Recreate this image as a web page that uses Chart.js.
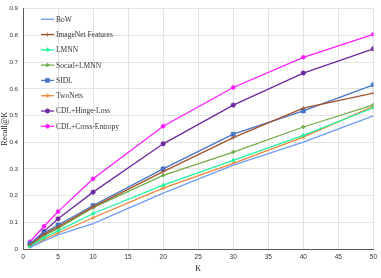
<!DOCTYPE html>
<html>
<head>
<meta charset="utf-8">
<script src="https://cdn.jsdelivr.net/npm/chart.js@4.4.0/dist/chart.umd.min.js"></script>
<style>
  body { margin: 0; background: #fff; }
  #wrap { width: 381px; height: 278px; }
</style>
</head>
<body>
<div id="wrap"><canvas id="recall-chart" width="381" height="278"></canvas></div>
<script>
// values, Recall@K at each K
const kValues = [1, 3, 5, 10, 20, 30, 40, 50];
const bow = [0.006, 0.03, 0.053, 0.095, 0.209, 0.314, 0.4, 0.499];
const imagenet = [0.015, 0.055, 0.083, 0.158, 0.29, 0.417, 0.528, 0.584];
const lmnn = [0.01, 0.042, 0.068, 0.133, 0.239, 0.332, 0.426, 0.529];
const socialLmnn = [0.012, 0.05, 0.077, 0.155, 0.276, 0.363, 0.457, 0.54];
const sidl = [0.02, 0.06, 0.09, 0.163, 0.3, 0.43, 0.517, 0.615];
const twoNets = [0.008, 0.036, 0.06, 0.117, 0.228, 0.321, 0.419, 0.534];
const cdlHinge = [0.018, 0.066, 0.113, 0.213, 0.394, 0.539, 0.659, 0.75];
const cdlCE = [0.027, 0.085, 0.14, 0.263, 0.46, 0.605, 0.718, 0.804];

const xTicks = [0, 5, 10, 15, 20, 25, 30, 35, 40, 45, 50];
const yTicks = [0, 0.1, 0.2, 0.3, 0.4, 0.5, 0.6, 0.7, 0.8, 0.9];

function pts(vals) {
  return kValues.map((k, i) => ({ x: k, y: vals[i] }));
}

function series(label, vals, color, style, radius) {
  return {
    label: label,
    data: pts(vals),
    borderColor: color,
    backgroundColor: color,
    borderWidth: 1.3,
    pointStyle: style,
    pointRadius: radius,
    pointBorderWidth: 0.6,
    pointHoverRadius: radius,
    tension: 0
  };
}

const datasets = [
  series('BoW', bow, '#6f9cf7', 'circle', 0),
  series('ImageNet Features', imagenet, '#a5522a', 'cross', 2.2),
  series('LMNN', lmnn, '#1cf7a0', 'triangle', 2.3),
  series('Social+LMNN', socialLmnn, '#72ad4a', 'rectRot', 2),
  series('SIDL', sidl, '#4674c6', 'rect', 2.9),
  series('TwoNets', twoNets, '#f08538', 'star', 2.3),
  series('CDL+Hinge-Loss', cdlHinge, '#6e2a9e', 'circle', 2.2),
  series('CDL+Cross-Entropy', cdlCE, '#ff1cff', 'circle', 2)
];

// legend drawn inside the plot, top-left, like the original
const innerLegend = {
  id: 'innerLegend',
  afterDraw(chart) {
    const ctx = chart.ctx;
    const area = chart.chartArea;
    ctx.save();
    ctx.font = '7.5px "Liberation Serif", "Times New Roman", serif';
    ctx.textBaseline = 'middle';
    chart.data.datasets.forEach((ds, i) => {
      const y = area.top + 10.5 + i * 15.3;
      const x0 = area.left + 18;
      const x1 = x0 + 13;
      ctx.strokeStyle = ds.borderColor;
      ctx.fillStyle = ds.backgroundColor;
      ctx.lineWidth = 1.3;
      ctx.beginPath();
      ctx.moveTo(x0, y);
      ctx.lineTo(x1, y);
      ctx.stroke();
      if (ds.pointRadius > 0 && Chart.helpers && Chart.helpers.drawPoint) {
        ctx.lineWidth = 0.6;
        Chart.helpers.drawPoint(ctx, {
          pointStyle: ds.pointStyle,
          radius: ds.pointRadius,
          rotation: 0,
          borderWidth: 0.6
        }, (x0 + x1) / 2, y);
      }
      ctx.fillStyle = '#333';
      ctx.fillText(ds.label, x1 + 2, y + 0.5);
    });
    ctx.restore();
  }
};

const whiteBg = {
  id: 'whiteBg',
  beforeDraw(chart) {
    const ctx = chart.ctx;
    ctx.save();
    ctx.fillStyle = '#fff';
    ctx.fillRect(0, 0, chart.width, chart.height);
    ctx.restore();
  }
};

const ctx = document.getElementById('recall-chart').getContext('2d');
const config = {
  type: 'line',
  data: { datasets: datasets },
  options: {
    responsive: false,
    animation: false,
    layout: { padding: { top: 5, right: 2, left: 0, bottom: 0 } },
    plugins: {
      legend: { display: false },
      tooltip: { enabled: false }
    },
    scales: {
      x: {
        type: 'linear',
        min: 0,
        max: 50,
        afterBuildTicks: s => { s.ticks = xTicks.map(v => ({ value: v })); },
        afterFit: s => { s.height = 29; },
        grid: { color: '#e3e3e3', lineWidth: 1, drawTicks: false },
        border: { color: '#595959', width: 1 },
        ticks: {
          padding: 4,
          color: '#333',
          font: { family: '"Liberation Sans", Arial, sans-serif', size: 6.5 },
          maxRotation: 0
        },
        title: {
          display: true,
          text: 'K',
          color: '#222',
          padding: { top: 2, bottom: 4 },
          font: { family: '"Liberation Serif", "Times New Roman", serif', size: 8 }
        }
      },
      y: {
        min: 0,
        max: 0.9,
        afterBuildTicks: s => { s.ticks = yTicks.map(v => ({ value: v })); },
        afterFit: s => { s.width = 23; },
        grid: { color: '#e3e3e3', lineWidth: 1, drawTicks: false },
        border: { color: '#595959', width: 1 },
        ticks: {
          padding: 5,
          color: '#333',
          font: { family: '"Liberation Sans", Arial, sans-serif', size: 6.2 },
          callback: v => (v === 0 ? '0' : v.toFixed(1))
        },
        title: {
          display: true,
          text: 'Recall@K',
          color: '#222',
          padding: { top: 0.5, bottom: 0 },
          font: { family: '"Liberation Serif", "Times New Roman", serif', size: 8 }
        }
      }
    }
  },
  plugins: [whiteBg, innerLegend]
};
const recallChart = new Chart(ctx, config);
</script>
</body>
</html>
